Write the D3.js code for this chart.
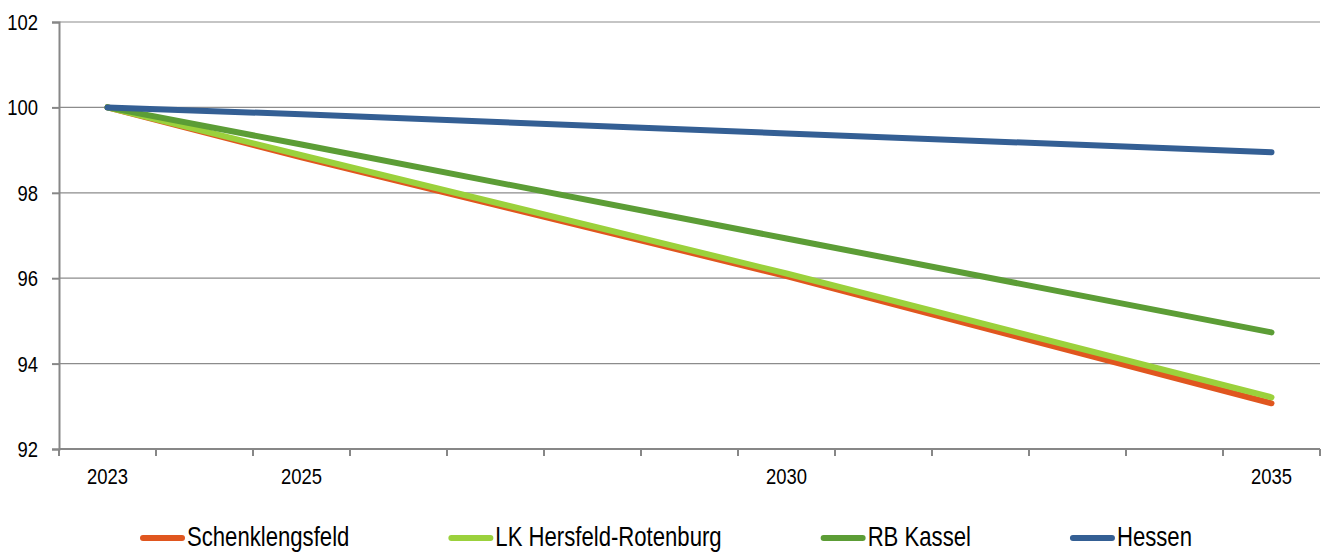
<!DOCTYPE html>
<html>
<head>
<meta charset="utf-8">
<script src="https://cdn.jsdelivr.net/npm/d3@7"></script>
<style>
	body { margin: 0; background: #fff; }
	svg { display: block; }
	text { font-family: "Liberation Sans", Arial, sans-serif; fill: #000; }
</style>
</head>
<body>
<svg id="chart" width="1329" height="552"></svg>
<script>
// categories on the x axis (one band per year), only some are labelled
const years = [2023, 2024, 2025, 2026, 2027, 2028, 2029, 2030, 2031, 2032, 2033, 2034, 2035];
const labelYears = [2023, 2025, 2030, 2035];
const yTicks = [92, 94, 96, 98, 100, 102];

// index values (2023 = 100), read at the labelled years
const dataYears = [2023, 2025, 2030, 2035];
const schenklengsfeld = [100, 98.83, 96.05, 93.07];
const lkHersfeld = [100, 98.88, 96.11, 93.21];
const rbKassel = [100, 99.13, 96.93, 94.73];
const hessen = [100, 99.84, 99.39, 98.95];

const seriesNames = ['Schenklengsfeld', 'LK Hersfeld-Rotenburg', 'RB Kassel', 'Hessen'];
const seriesValues = [schenklengsfeld, lkHersfeld, rbKassel, hessen];
const seriesColors = ['#e0561f', '#9bd13c', '#5c9d36', '#345f94'];

const NARROW = 0.82; // no narrow font installed, squeeze text horizontally

const svg = d3.select('#chart');
const m = {l: 59, r: 1320, t: 22, b: 449};

const x = d3.scaleBand()
	.domain(years)
	.range([m.l, m.r])
	.paddingInner(0)
	.paddingOuter(0);

const y = d3.scaleLinear()
	.domain([92, 102])
	.range([m.b, m.t]);

// text placed at (tx, ty) and squeezed
function narrowText(g, tx, ty, size, anchor, str) {
	return g.append('text')
		.attr('transform', 'translate(' + tx + ',' + ty + ') scale(' + NARROW + ',1)')
		.attr('font-size', size)
		.attr('text-anchor', anchor)
		.text(str);
}

// gridlines
svg.append('g')
	.attr('class', 'g_grid')
	.selectAll('line')
	.data(yTicks.filter(d => d !== 92)).enter()
	.append('line')
	.attr('x1', m.l)
	.attr('x2', m.r)
	.attr('y1', d => y(d))
	.attr('y2', d => y(d))
	.attr('stroke', '#8c8c8c')
	.attr('stroke-width', 1.2);

// y axis
const yAxis = svg.append('g')
	.attr('class', 'g_axis_y')
	.attr('transform', 'translate(' + m.l + ',0)')
	.call(d3.axisLeft(y).tickValues(yTicks).tickSize(7).tickFormat(''));
yAxis.select('.domain').attr('stroke', '#878787').attr('stroke-width', 2);
yAxis.selectAll('.tick line').attr('stroke', '#878787').attr('stroke-width', 2);

const gYLab = svg.append('g').attr('class', 'g_ylabels');
yTicks.forEach(v => narrowText(gYLab, 38, y(v) + 8, 22.5, 'end', v));

// x axis: ticks on band edges, labels at band centres
const xg = svg.append('g').attr('class', 'g_axis_x');
xg.append('line')
	.attr('x1', m.l).attr('x2', m.r)
	.attr('y1', m.b).attr('y2', m.b)
	.attr('stroke', '#878787').attr('stroke-width', 2);

const edges = years.map(d => x(d)).concat([x(years[years.length - 1]) + x.bandwidth()]);
xg.selectAll('.xtick')
	.data(edges).enter()
	.append('line')
	.attr('class', 'xtick')
	.attr('x1', d => d).attr('x2', d => d)
	.attr('y1', m.b).attr('y2', m.b + 7)
	.attr('stroke', '#878787').attr('stroke-width', 2);

labelYears.forEach(d => narrowText(xg, x(d) + x.bandwidth() / 2, 484, 22.5, 'middle', d));

// lines
const line = d3.line()
	.x(d => x(d.year) + x.bandwidth() / 2)
	.y(d => y(d.value));

svg.append('g')
	.attr('class', 'g_lines')
	.selectAll('path')
	.data(seriesValues).enter()
	.append('path')
	.attr('d', vals => line(vals.map((v, i) => ({year: dataYears[i], value: v}))))
	.attr('fill', 'none')
	.attr('stroke', (d, i) => seriesColors[i])
	.attr('stroke-width', 6)
	.attr('stroke-linecap', 'round')
	.attr('stroke-linejoin', 'round');

// legend
const gLeg = svg.append('g').attr('class', 'g_legend');
let lx = 140;
seriesNames.forEach((name, i) => {
	gLeg.append('line')
		.attr('x1', lx + 3).attr('x2', lx + 42)
		.attr('y1', 538).attr('y2', 538)
		.attr('stroke', seriesColors[i])
		.attr('stroke-width', 6)
		.attr('stroke-linecap', 'round');
	const t = narrowText(gLeg, lx + 47, 546, 27, 'start', name);
	lx += 47 + t.node().getComputedTextLength() * NARROW + 99;
});
</script>
</body>
</html>
